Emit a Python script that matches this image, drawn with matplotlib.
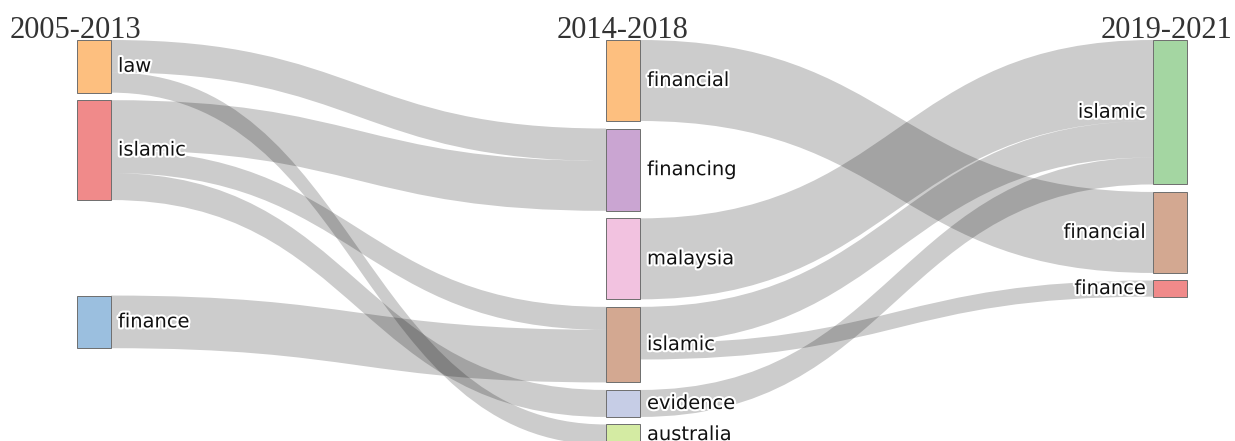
import matplotlib
matplotlib.use("Agg")
import matplotlib.pyplot as plt
from matplotlib.path import Path
from matplotlib.patches import PathPatch, Rectangle
import matplotlib.patheffects as pe

# columns (time periods) and the keyword nodes in each
periods = ["2005-2013", "2014-2018", "2019-2021"]
col0_nodes = ["law", "islamic", "finance"]
col1_nodes = ["financial", "financing", "malaysia", "islamic", "evidence", "australia"]
col2_nodes = ["islamic", "financial", "finance"]

# links between consecutive periods
link_src_col = [0, 0, 0, 0, 0, 0, 1, 1, 1, 1, 1]
link_src = ["law", "law", "islamic", "islamic", "islamic", "finance",
            "financial", "malaysia", "islamic", "islamic", "evidence"]
link_tgt = ["financing", "australia", "financing", "islamic", "evidence", "islamic",
            "financial", "islamic", "islamic", "finance", "islamic"]
link_val = [1.2, 0.75, 1.85, 0.85, 1.0, 1.95, 3.0, 3.0, 1.35, 0.6, 1.0]

# node colours
node_colors = {
    (0, "law"): "#fdbf7f", (0, "islamic"): "#f08a8a", (0, "finance"): "#9bbfdf",
    (1, "financial"): "#fdbf7f", (1, "financing"): "#caa5d2", (1, "malaysia"): "#f2c2e0",
    (1, "islamic"): "#d3a891", (1, "evidence"): "#c6cde6", (1, "australia"): "#d4eba3",
    (2, "islamic"): "#a4d6a2", (2, "financial"): "#d3a891", (2, "finance"): "#f08a8a",
}

# layout (pixels)
W, H = 1235, 441
node_w = 34
col_x = [77, 606, 1153]
top = 40
gap = 7.5
scale = 27.0          # px per unit of value
extra_pad = {(0, "finance"): 88}

columns = [col0_nodes, col1_nodes, col2_nodes]

links = []
for sc, s, t, v in zip(link_src_col, link_src, link_tgt, link_val):
    links.append({"src": (sc, s), "tgt": (sc + 1, t), "val": v})

# node values = max(in, out)
nodes = {}
for c, names in enumerate(columns):
    for n in names:
        vin = sum(l["val"] for l in links if l["tgt"] == (c, n))
        vout = sum(l["val"] for l in links if l["src"] == (c, n))
        nodes[(c, n)] = {"val": max(vin, vout), "x0": col_x[c], "x1": col_x[c] + node_w}

# stack nodes in each column
for c, names in enumerate(columns):
    y = top
    for n in names:
        key = (c, n)
        y += extra_pad.get(key, 0)
        nodes[key]["y0"] = y
        nodes[key]["y1"] = y + nodes[key]["val"] * scale
        y = nodes[key]["y1"] + gap

# link slots, ordered by the position of the other end
for key, nd in nodes.items():
    outs = sorted([l for l in links if l["src"] == key], key=lambda l: nodes[l["tgt"]]["y0"])
    y = nd["y0"]
    for l in outs:
        l["sy0"] = y
        y += l["val"] * scale
        l["sy1"] = y
    ins = sorted([l for l in links if l["tgt"] == key], key=lambda l: nodes[l["src"]]["y0"])
    y = nd["y0"]
    for l in ins:
        l["ty0"] = y
        y += l["val"] * scale
        l["ty1"] = y

fig = plt.figure(figsize=(W / 100, H / 100), dpi=100)
ax = fig.add_axes([0, 0, 1, 1])
ax.set_xlim(0, W)
ax.set_ylim(H, 0)
ax.axis("off")

# links as filled ribbons between two bezier curves
for l in links:
    xs = nodes[l["src"]]["x1"]
    xt = nodes[l["tgt"]]["x0"]
    xm = (xs + xt) / 2
    verts = [(xs, l["sy0"]), (xm, l["sy0"]), (xm, l["ty0"]), (xt, l["ty0"]),
             (xt, l["ty1"]), (xm, l["ty1"]), (xm, l["sy1"]), (xs, l["sy1"]),
             (xs, l["sy0"])]
    codes = [Path.MOVETO, Path.CURVE4, Path.CURVE4, Path.CURVE4,
             Path.LINETO, Path.CURVE4, Path.CURVE4, Path.CURVE4, Path.CLOSEPOLY]
    ax.add_patch(PathPatch(Path(verts, codes), facecolor=(0, 0, 0, 0.2),
                           edgecolor="none", zorder=1))

# nodes and labels
halo = [pe.withStroke(linewidth=3, foreground="white")]
for (c, n), nd in nodes.items():
    ax.add_patch(Rectangle((nd["x0"], nd["y0"]), node_w, nd["y1"] - nd["y0"],
                           facecolor=node_colors[(c, n)], edgecolor="#6e6e6e",
                           lw=0.7, zorder=2))
    ym = (nd["y0"] + nd["y1"]) / 2
    if c < len(columns) - 1:
        ax.text(nd["x1"] + 7, ym, n, ha="left", va="center", fontsize=14,
                color="#111111", path_effects=halo, zorder=3)
    else:
        ax.text(nd["x0"] - 7, ym, n, ha="right", va="center", fontsize=14,
                color="#111111", path_effects=halo, zorder=3)

# period headers
hdr = dict(fontsize=22, family="Liberation Serif", color="#333333", va="baseline", zorder=4)
ax.text(10, 38, periods[0], ha="left", **hdr)
ax.text(col_x[1] + node_w / 2, 38, periods[1], ha="center", **hdr)
ax.text(W - 3, 38, periods[2], ha="right", **hdr)

fig.savefig("out.png", dpi=100)
